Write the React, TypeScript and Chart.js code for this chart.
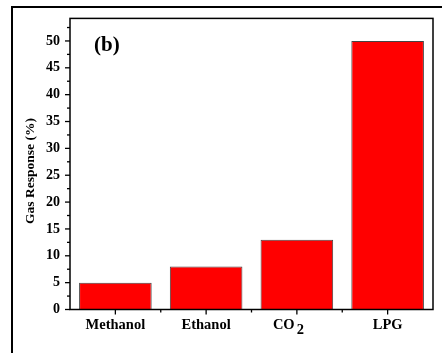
import React, { useEffect, useRef } from "react";
import { Chart, registerables } from "chart.js";

Chart.register(...registerables);

const categories = ["Methanol", "Ethanol", "CO\u2082", "LPG"];
const responses = [5, 8, 13, 50];
const yMax = 54.2;
const yStep = 5;
const yMinorStep = 2.5;
const yTitle = "Gas Response (%)";
const panelLabel = "(b)";

const FONT = "'Times New Roman', 'Liberation Serif', serif";

const decorPlugin = {
  id: "decor",
  afterDraw(chart: any) {
    const { ctx, chartArea } = chart;
    const x = chart.scales.x;
    const y = chart.scales.y;
    ctx.save();
    ctx.strokeStyle = "#000";
    ctx.lineWidth = 1.5;
    ctx.strokeRect(chartArea.left, chartArea.top, chartArea.right - chartArea.left, chartArea.bottom - chartArea.top);
    ctx.lineWidth = 1.3;
    // y ticks
    for (let v = 0; v <= yMax + 1e-6; v += yMinorStep) {
      const py = y.getPixelForValue(v);
      const major = Math.abs(v / yStep - Math.round(v / yStep)) < 1e-6;
      const len = major ? 5 : 3;
      ctx.beginPath();
      ctx.moveTo(chartArea.left, py);
      ctx.lineTo(chartArea.left - len, py);
      ctx.stroke();
    }
    // x ticks and labels
    ctx.fillStyle = "#000";
    ctx.textBaseline = "middle";
    for (let i = 0; i < categories.length; i++) {
      const px = x.getPixelForValue(i);
      ctx.beginPath();
      ctx.moveTo(px, chartArea.bottom);
      ctx.lineTo(px, chartArea.bottom + 5);
      ctx.stroke();
      if (i < categories.length - 1) {
        const pb = (px + x.getPixelForValue(i + 1)) / 2;
        ctx.beginPath();
        ctx.moveTo(pb, chartArea.bottom);
        ctx.lineTo(pb, chartArea.bottom + 3);
        ctx.stroke();
      }
      const label = categories[i];
      const ly = chartArea.bottom + 16;
      ctx.font = `bold 14.5px ${FONT}`;
      if (label.includes("\u2082")) {
        const base = label.replace("\u2082", "");
        const wBase = ctx.measureText(base).width;
        ctx.textAlign = "left";
        const startX = px - 24;
        ctx.fillText(base, startX, ly);
        ctx.fillText("2", startX + wBase + 2, ly + 5);
      } else {
        ctx.textAlign = "center";
        ctx.fillText(label, px, ly);
      }
    }
    // y title
    ctx.font = `bold 13.5px ${FONT}`;
    ctx.textAlign = "center";
    ctx.textBaseline = "middle";
    ctx.translate(31, 171);
    ctx.rotate(-Math.PI / 2);
    ctx.fillText(yTitle, 0, 0);
    ctx.restore();
    // panel label
    ctx.save();
    ctx.fillStyle = "#000";
    ctx.font = `bold 21px ${FONT}`;
    ctx.textAlign = "left";
    ctx.textBaseline = "middle";
    ctx.fillText(panelLabel, 94, 46);
    ctx.restore();
  },
};

export default function App() {
  const ref = useRef<HTMLCanvasElement>(null);
  useEffect(() => {
    if (!ref.current) return;
    const chart = new Chart(ref.current, {
      type: "bar",
      data: {
        labels: categories,
        datasets: [
          {
            data: responses,
            backgroundColor: "#ff0000",
            borderColor: "#444444",
            borderWidth: 1,
            barPercentage: 0.8,
            categoryPercentage: 1,
          },
        ],
      },
      options: {
        animation: false,
        responsive: false,
        maintainAspectRatio: false,
        layout: { padding: { top: 17, right: 9, left: 0, bottom: 0 } },
        plugins: { legend: { display: false }, tooltip: { enabled: false } },
        scales: {
          x: {
            grid: { display: false, drawTicks: false },
            border: { display: false },
            ticks: { display: false },
            afterFit: (s: any) => {
              s.height = 43.5;
            },
          },
          y: {
            min: 0,
            max: yMax,
            grid: { display: false, drawTicks: false },
            border: { display: false },
            ticks: {
              stepSize: yStep,
              includeBounds: false,
              color: "#000",
              font: { family: FONT, size: 14, weight: "bold" },
              padding: 10,
            },
            afterFit: (s: any) => {
              s.width = 70;
            },
          },
        },
      },
      plugins: [decorPlugin],
    });
    return () => chart.destroy();
  }, []);
  return (
    <div style={{ position: "fixed", left: 0, top: 0, width: 442, height: 353, overflow: "hidden", background: "#fff" }}>
      <canvas ref={ref} width={442} height={353} style={{ position: "absolute", left: 0, top: 0 }} />
      <div
        style={{
          position: "absolute",
          left: 11,
          top: 6,
          width: 480,
          height: 400,
          border: "2px solid #000",
          pointerEvents: "none",
        }}
      />
    </div>
  );
}
